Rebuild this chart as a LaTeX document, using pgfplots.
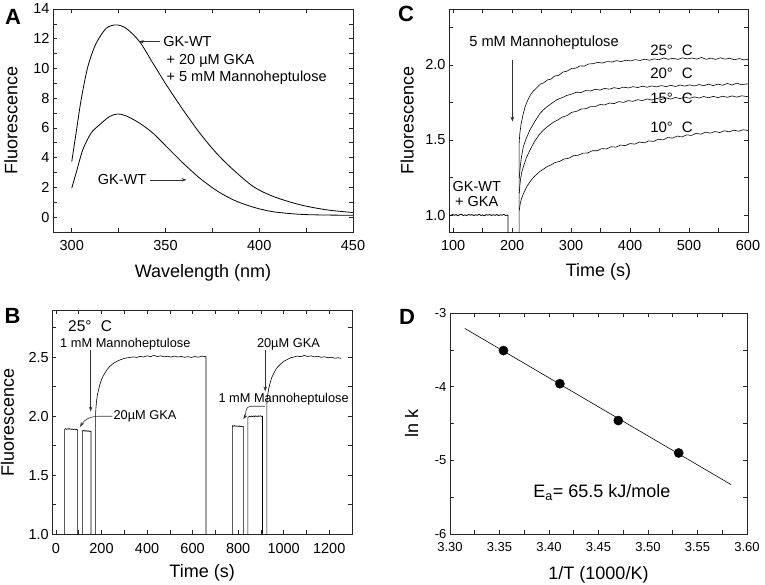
\documentclass[border=0pt]{standalone}
\usepackage{fontspec}
\setmainfont{Liberation Sans}
\usepackage{pgfplots}
\pgfplotsset{compat=1.18}
\usetikzlibrary{arrows.meta}
\newcommand{\fs}[1]{\fontsize{#1}{#1}\selectfont}
\pgfplotsset{
  panel/.style={
    scale only axis, anchor=south west,
    axis line style={line width=0.8pt, black!85},
    tick align=inside, xtick pos=both, ytick pos=both,
    xticklabel pos=lower, yticklabel pos=left,
    major tick length=4pt, minor tick length=4pt,
    every tick/.style={line width=0.6pt, black!85},
    /pgf/number format/assume math mode=true,
    /pgf/number format/1000 sep={},
    tick label style={font=\fs{14.5}},
    xticklabel style={yshift=-4.5pt},
    label style={font=\fs{18}},
    clip=true,
  },
  curve/.style={black, line width=0.8pt, no marks},
  noisy/.style={black, line width=0.6pt, no marks},
  onedec/.style={/pgf/number format/fixed, /pgf/number format/fixed zerofill, /pgf/number format/precision=1},
  twodec/.style={/pgf/number format/fixed, /pgf/number format/fixed zerofill, /pgf/number format/precision=2},
}
\tikzset{arr/.style={-{Stealth[length=5pt,width=3.5pt]}, line width=0.6pt, black!80}}
\begin{document}
\begin{tikzpicture}
\useasboundingbox (0,0) rectangle (765pt,-585pt);

% ---------------- Panel A ----------------
\begin{axis}[panel, at={(53pt,-232pt)}, width=300pt, height=223pt,
  xmin=290, xmax=450, ymin=-1, ymax=14,
  xtick={300,350,400,450}, minor xtick={325,375,425},
  ytick={0,2,4,6,8,10,12,14}, minor ytick={-1,1,3,5,7,9,11,13},
  xlabel={Wavelength (nm)}, ylabel={Fluorescence},
  xlabel style={at={(axis description cs:0.5,-0.184)}, anchor=center},
  ylabel style={at={(axis description cs:-0.14,0.5)}, anchor=center},
]
\addplot[curve, smooth] coordinates {
(300,3.74)(302.3,5.65)(305,7.89)(308.6,10.13)(313,11.69)(318.4,12.70)(323.7,12.93)
(329,12.70)(336.2,11.8)(343.3,10.35)(350.5,8.89)(359.4,7.21)(368.3,5.65)(377.2,4.30)
(386.2,3.18)(396.8,2.06)(407.5,1.39)(421.8,0.83)(436,0.49)(450,0.31)};
\addplot[curve, smooth] coordinates {
(300,1.95)(302.3,2.96)(305.9,4.53)(310.3,5.65)(314.8,6.21)(320.2,6.77)(324.6,6.94)
(329,6.81)(336.2,6.32)(343.3,5.65)(350.5,4.75)(359.4,3.63)(368.3,2.62)(377.2,1.79)
(386.2,1.16)(396.8,0.67)(407.5,0.36)(421.8,0.19)(436,0.14)(450,0.13)};
\node[anchor=west, font=\fs{14.5}, inner sep=0pt] at (axis cs:348.7,11.8) {GK-WT};
\draw[arr] (axis cs:347,11.8) -- (axis cs:335.8,11.8);
\node[anchor=west, font=\fs{14.5}, inner sep=0pt] at (axis cs:350.5,10.5) {+ 20 µM GKA};
\node[anchor=west, font=\fs{14.5}, inner sep=0pt] at (axis cs:350.5,9.39) {+ 5 mM Mannoheptulose};
\node[anchor=east, font=\fs{14.5}, inner sep=0pt] at (axis cs:339.8,2.51) {GK-WT};
\draw[arr] (axis cs:341.6,2.51) -- (axis cs:361.2,2.51);
\end{axis}

% ---------------- Panel C ----------------
\begin{axis}[panel, at={(449pt,-232.3pt)}, width=299pt, height=223pt,
  xmin=93, xmax=600, ymin=0.885, ymax=2.37,
  xtick={100,200,300,400,500,600}, minor xtick={150,250,350,450,550},
  ytick={1.0,1.5,2.0}, minor ytick={1.25,1.75,2.25},
  yticklabel style={onedec},
  xlabel={Time (s)}, ylabel={Fluorescence},
  xlabel style={at={(axis description cs:0.5,-0.177)}, anchor=center},
  ylabel style={at={(axis description cs:-0.14,0.5)}, anchor=center},
]
\addplot[noisy, line width=0.8pt] coordinates {
(93,1.002)(96,0.996)(99,1.004)(102,0.998)(105,1.003)(108,0.995)(111,1.002)(114,1.005)
(117,0.997)(120,1.001)(123,0.996)(126,1.004)(129,0.999)(132,1.003)(135,0.996)(138,1.002)
(141,0.998)(144,1.005)(147,0.997)(150,1.001)(153,0.995)(156,1.003)(159,0.999)(162,1.004)
(165,0.997)(168,1.002)(171,0.998)(174,1.003)(177,0.996)(180,1.002)(183,0.999)(186,1.004)
(189,0.997)(193,1.0)(193,0.85)};
\addplot[noisy] coordinates {
(212,0.85)(212,1.48)(213,1.54)(215,1.60)(218,1.66)(222,1.72)(226,1.76)(231,1.80)(236,1.826)
(242,1.848)(248,1.872)(253,1.879)(260,1.90)(266,1.905)(272,1.925)(279,1.93)(286,1.952)
(293,1.958)(301,1.976)(308,1.978)(315,1.993)(323,1.992)(330,2.006)(338,2.008)(345,2.017)
(353,2.012)(361,2.022)(369,2.019)(377,2.028)(385,2.022)(393,2.031)(401,2.026)(409,2.035)
(417,2.029)(425,2.038)(433,2.031)(441,2.040)(449,2.034)(457,2.046)(465,2.037)(473,2.044)
(481,2.036)(489,2.047)(497,2.039)(505,2.046)(513,2.038)(521,2.049)(529,2.037)(537,2.045)
(545,2.036)(553,2.047)(561,2.038)(569,2.044)(577,2.034)(585,2.042)(593,2.033)(600,2.038)};
\addplot[noisy] coordinates {
(212,1.245)(214,1.33)(216,1.39)(219,1.455)(224,1.51)(230,1.565)(238,1.62)(247,1.675)
(253,1.70)(258,1.718)(264,1.735)(270,1.752)(277,1.77)(285,1.782)(293,1.797)(301,1.805)
(309,1.818)(317,1.816)(325,1.829)(333,1.826)(341,1.838)(349,1.832)(357,1.843)(365,1.838)
(373,1.848)(381,1.842)(389,1.852)(397,1.846)(405,1.855)(413,1.849)(421,1.858)(429,1.851)
(437,1.860)(445,1.853)(453,1.862)(461,1.855)(469,1.864)(477,1.856)(485,1.866)(493,1.858)
(501,1.867)(509,1.859)(517,1.869)(525,1.861)(533,1.871)(541,1.862)(549,1.872)(557,1.864)
(565,1.876)(573,1.866)(581,1.878)(589,1.868)(600,1.874)};
\addplot[noisy] coordinates {
(212,1.145)(214,1.23)(216,1.28)(219,1.32)(224,1.38)(230,1.43)(238,1.49)(247,1.54)
(253,1.565)(258,1.583)(264,1.60)(270,1.618)(277,1.632)(285,1.652)(293,1.662)(301,1.684)
(309,1.69)(317,1.706)(325,1.708)(333,1.722)(341,1.722)(349,1.736)(357,1.733)(365,1.746)
(373,1.742)(381,1.755)(389,1.75)(397,1.762)(405,1.757)(413,1.768)(421,1.762)(429,1.773)
(437,1.766)(445,1.777)(453,1.769)(461,1.780)(469,1.772)(477,1.783)(485,1.775)(493,1.785)
(501,1.777)(509,1.787)(517,1.779)(525,1.789)(533,1.781)(541,1.790)(549,1.782)(557,1.791)
(565,1.784)(573,1.793)(581,1.785)(589,1.794)(600,1.788)};
\addplot[noisy] coordinates {
(212,1.03)(214,1.08)(216,1.11)(219,1.14)(225,1.19)(230,1.22)(236,1.25)(242,1.272)
(247,1.29)(253,1.305)(259,1.322)(266,1.334)(273,1.35)(280,1.356)(288,1.373)(296,1.378)
(304,1.395)(312,1.398)(320,1.412)(328,1.413)(336,1.428)(344,1.428)(352,1.442)(360,1.44)
(368,1.455)(376,1.452)(384,1.466)(392,1.462)(400,1.476)(408,1.472)(416,1.486)(424,1.481)
(432,1.494)(440,1.49)(448,1.505)(456,1.50)(464,1.516)(472,1.512)(480,1.526)(488,1.52)
(496,1.534)(504,1.53)(512,1.544)(520,1.538)(528,1.552)(536,1.545)(544,1.556)(552,1.549)
(560,1.561)(568,1.554)(576,1.565)(584,1.558)(592,1.568)(600,1.563)};
\node[anchor=west, font=\fs{14.7}, inner sep=0pt] at (axis cs:127,2.15) {5 mM Mannoheptulose};
\draw[arr] (axis cs:200.5,2.033) -- (axis cs:200.5,1.622);
\node[align=center, font=\fs{14.5}, inner sep=0pt] at (axis cs:140,1.14) {GK-WT\\+ GKA};
\node[anchor=west, font=\fs{15}, inner sep=0pt] at (axis cs:434,2.10) {25°\hspace{0.6em}C};
\node[anchor=west, font=\fs{15}, inner sep=0pt] at (axis cs:434,1.944) {20°\hspace{0.6em}C};
\node[anchor=west, font=\fs{15}, inner sep=0pt] at (axis cs:434,1.778) {15°\hspace{0.6em}C};
\node[anchor=west, font=\fs{15}, inner sep=0pt] at (axis cs:434,1.585) {10°\hspace{0.6em}C};
\end{axis}

% ---------------- Panel B ----------------
\begin{axis}[panel, at={(52.3pt,-534.3pt)}, width=299.7pt, height=224.3pt,
  xmin=-16, xmax=1300, ymin=1.0, ymax=2.9,
  xtick={0,200,400,600,800,1000,1200}, minor xtick={100,300,500,700,900,1100},
  ytick={1.0,1.5,2.0,2.5}, minor ytick={1.25,1.75,2.25,2.75},
  yticklabel style={onedec},
  xticklabel style={yshift=-1pt},
  xlabel={Time (s)}, ylabel={Fluorescence},
  xlabel style={at={(axis description cs:0.5,-0.174)}, anchor=center},
  ylabel style={at={(axis description cs:-0.15,0.5)}, anchor=center},
]
\addplot[noisy] coordinates {
(38,0.9)(38,1.89)(42,1.895)(46,1.888)(50,1.894)(54,1.89)(58,1.896)(62,1.889)(66,1.893)
(70,1.887)(74,1.892)(78,1.888)(82,1.891)(86,1.886)(90,1.89)(95,1.884)(95,0.9)};
\addplot[noisy] coordinates {
(116,0.9)(116,1.875)(120,1.881)(124,1.874)(128,1.879)(132,1.873)(136,1.878)(140,1.872)
(144,1.877)(148,1.871)(154,1.874)(154,0.9)};
\addplot[noisy] coordinates {
(174,0.9)(174,2.02)(176,2.08)(179,2.14)(183,2.19)(188,2.23)(193,2.27)(200,2.31)(210,2.35)
(223,2.39)(235,2.42)(250,2.445)(267,2.465)(285,2.48)(300,2.49)(320,2.497)(340,2.503)
(355,2.498)(370,2.507)(385,2.502)(400,2.512)(415,2.505)(430,2.515)(445,2.506)(460,2.512)
(475,2.503)(490,2.508)(505,2.501)(520,2.51)(535,2.502)(550,2.507)(565,2.499)(580,2.505)
(595,2.498)(610,2.506)(625,2.5)(640,2.509)(659,2.505)(659,0.9)};
\addplot[noisy] coordinates {
(775,0.9)(775,1.92)(779,1.916)(783,1.921)(787,1.915)(791,1.919)(795,1.914)(799,1.918)
(803,1.913)(807,1.917)(811,1.912)(815,1.916)(819,1.911)(823,1.913)(823,0.9)};
\addplot[noisy] coordinates {
(843,0.9)(843,1.99)(847,1.996)(851,2.001)(855,1.995)(859,2.002)(863,1.997)(867,2.003)
(871,1.996)(875,2.004)(879,1.998)(883,2.003)(887,1.997)(891,2.004)(895,1.999)(899,2.005)
(903,1.998)(907,2.0)(907,0.9)};
\addplot[noisy] coordinates {
(926,0.9)(926,2.10)(929,2.17)(934,2.23)(940,2.28)(948,2.33)(958,2.37)(970,2.41)(985,2.44)
(1000,2.465)(1015,2.48)(1030,2.495)(1045,2.502)(1060,2.51)(1075,2.505)(1090,2.515)
(1105,2.506)(1120,2.512)(1135,2.503)(1150,2.508)(1165,2.499)(1180,2.504)(1195,2.495)
(1210,2.5)(1225,2.491)(1240,2.496)(1252,2.49)};
\node[anchor=west, font=\fs{15.5}, inner sep=0pt] at (axis cs:53,2.76) {25°\hspace{0.6em}C};
\node[anchor=west, font=\fs{12.8}, inner sep=0pt] at (axis cs:18,2.61) {1 mM Mannoheptulose};
\draw[arr] (axis cs:152.5,2.56) -- (axis cs:152.5,2.04);
\node[anchor=west, font=\fs{12.8}, inner sep=0pt] at (axis cs:252,2.0) {20µM GKA};
\draw[arr] (axis cs:248,2.0) -- (axis cs:190,2.0) to[out=180,in=60] (axis cs:106,1.91);
\node[anchor=west, font=\fs{12.8}, inner sep=0pt] at (axis cs:882,2.61) {20µM GKA};
\draw[arr] (axis cs:919,2.56) -- (axis cs:919,2.21);
\node[anchor=west, font=\fs{12.8}, inner sep=0pt] at (axis cs:713,2.146) {1 mM Mannoheptulose};
\draw[arr] (axis cs:919,2.085) -- (axis cs:855,2.085) to[out=180,in=60] (axis cs:823,1.975);
\end{axis}

% ---------------- Panel D ----------------
\begin{axis}[panel, at={(450pt,-534pt)}, width=297pt, height=221pt,
  xmin=3.30, xmax=3.60, ymin=-6, ymax=-3,
  xtick={3.30,3.35,3.40,3.45,3.50,3.55,3.60}, minor x tick num=1,
  ytick={-6,-5,-4,-3}, minor ytick={-5.5,-4.5,-3.5},
  tick label style={font=\fs{13}},
  xticklabel style={twodec, yshift=0pt},
  xlabel={1/T (1000/K)}, ylabel={ln k},
  xlabel style={at={(axis description cs:0.5,-0.186)}, anchor=center},
  ylabel style={at={(axis description cs:-0.129,0.5)}, anchor=center},
]
\addplot[black, line width=0.6pt, no marks] coordinates {(3.315,-3.21)(3.584,-5.33)};
\addplot[only marks, mark=*, mark size=4.6pt, black] coordinates {
(3.354,-3.51)(3.411,-3.96)(3.470,-4.46)(3.531,-4.90)};
\node[font=\fs{18}, inner sep=0pt] at (axis cs:3.4535,-5.44) {E\textsubscript{a}= 65.5 kJ/mole};
\end{axis}

% panel letters
\node[font=\bfseries\fs{22}, inner sep=0pt] at (13pt,-16.5pt) {A};
\node[font=\bfseries\fs{22}, inner sep=0pt] at (406pt,-14pt) {C};
\node[font=\bfseries\fs{22}, inner sep=0pt] at (12.5pt,-316pt) {B};
\node[font=\bfseries\fs{22}, inner sep=0pt] at (407pt,-317pt) {D};
\end{tikzpicture}
\end{document}
